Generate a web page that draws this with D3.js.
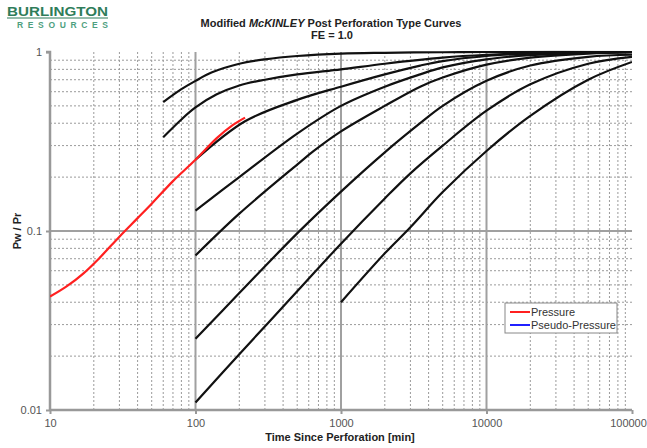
<!DOCTYPE html>
<html>
<head>
<meta charset="utf-8">
<script src="https://cdn.jsdelivr.net/npm/d3@7/dist/d3.min.js"></script>
<style>
  html, body { margin: 0; padding: 0; background: #fff; }
  svg { display: block; font-family: "Liberation Sans", Arial, sans-serif; }
</style>
</head>
<body>
<svg id="chart" width="647" height="448"></svg>
<script>
// Type curves: [time (min), Pw/Pr]
const typeCurve1 = [[60,0.525],[80,0.62],[100,0.69],[130,0.77],[200,0.86],[300,0.91],[500,0.95],[1000,0.98],[2000,0.99],[5000,0.997],[10000,1.0],[100000,1.0]];
const typeCurve2 = [[60,0.334],[80,0.42],[100,0.49],[140,0.58],[200,0.65],[300,0.7],[500,0.75],[1000,0.8],[2000,0.86],[5000,0.93],[10000,0.965],[20000,0.985],[50000,0.995],[100000,1.0]];
const typeCurve3 = [[100,0.25],[219,0.41],[500,0.54],[1000,0.64],[2000,0.75],[3500,0.84],[5000,0.89],[10000,0.95],[20000,0.98],[50000,0.995],[100000,1.0]];
const typeCurve4 = [[100,0.13],[200,0.2],[500,0.35],[1000,0.5],[2000,0.64],[3500,0.75],[5000,0.82],[10000,0.91],[20000,0.96],[50000,0.99],[100000,1.0]];
const typeCurve5 = [[100,0.073],[200,0.125],[500,0.235],[650,0.28],[1000,0.36],[2000,0.5],[3500,0.64],[5000,0.72],[10000,0.85],[20000,0.93],[50000,0.98],[100000,0.995]];
const typeCurve6 = [[100,0.025],[200,0.045],[500,0.097],[1000,0.166],[2000,0.275],[3500,0.4],[5000,0.5],[10000,0.69],[20000,0.84],[50000,0.94],[100000,0.965]];
const typeCurve7 = [[100,0.011],[200,0.0205],[500,0.046],[1000,0.085],[2000,0.152],[3000,0.21],[5000,0.3],[10000,0.47],[20000,0.66],[50000,0.86],[100000,0.94]];
const typeCurve8 = [[1000,0.04],[2000,0.075],[3000,0.105],[5000,0.165],[10000,0.28],[20000,0.44],[50000,0.70],[100000,0.88]];

// Measured pressure data
const pressureData = [[10,0.043],[13,0.049],[17,0.058],[22,0.071],[30,0.093],[40,0.118],[50,0.142],[70,0.19],[100,0.25],[140,0.33],[180,0.39],[219,0.43]];

const xTickValues = [10, 100, 1000, 10000, 100000];
const xTickLabels = ["10", "100", "1000", "10000", "100000"];
const yTickValues = [0.01, 0.1, 1];
const yTickLabels = ["0.01", "0.1", "1"];
const legendLabels = ["Pressure", "Pseudo-Pressure"];
const legendColors = ["#ff2020", "#2020ff"];

const svg = d3.select("#chart");
const plotLeft = 50, plotRight = 632, plotTop = 52, plotBottom = 410;

const x = d3.scaleLog().domain([10, 100000]).range([plotLeft, plotRight]);
const y = d3.scaleLog().domain([0.01, 1]).range([plotBottom, plotTop]);

// Minor grid values
const minorX = [], minorY = [];
for (let d = 10; d < 100000; d *= 10) for (let k = 2; k <= 9; k++) minorX.push(d * k);
for (let d = 0.01; d < 0.99; d *= 10) for (let k = 2; k <= 9; k++) minorY.push(d * k);

const grid = svg.append("g");
grid.selectAll("line.mx").data(minorX).join("line")
  .attr("x1", d => x(d)).attr("x2", d => x(d))
  .attr("y1", plotTop).attr("y2", plotBottom)
  .attr("stroke", "#9a9a9a").attr("stroke-width", 1).attr("stroke-dasharray", "2,2");
grid.selectAll("line.my").data(minorY).join("line")
  .attr("x1", plotLeft).attr("x2", plotRight)
  .attr("y1", d => y(d)).attr("y2", d => y(d))
  .attr("stroke", "#9a9a9a").attr("stroke-width", 1).attr("stroke-dasharray", "2,2");
// Major grid
grid.selectAll("line.Mx").data(xTickValues.slice(1, -1)).join("line")
  .attr("x1", d => x(d)).attr("x2", d => x(d))
  .attr("y1", plotTop).attr("y2", plotBottom)
  .attr("stroke", "#a0a0a0").attr("stroke-width", 2);
grid.selectAll("line.My").data([0.1]).join("line")
  .attr("x1", plotLeft).attr("x2", plotRight)
  .attr("y1", d => y(d)).attr("y2", d => y(d))
  .attr("stroke", "#a0a0a0").attr("stroke-width", 2);

// Axes
const xAxis = d3.axisBottom(x).tickValues(xTickValues)
  .tickFormat((d, i) => xTickLabels[i]).tickSize(4).tickPadding(5);
const yAxis = d3.axisLeft(y).tickValues(yTickValues)
  .tickFormat((d, i) => yTickLabels[i]).tickSize(4).tickPadding(4);

const gx = svg.append("g").attr("transform", `translate(0,${plotBottom})`).call(xAxis);
const gy = svg.append("g").attr("transform", `translate(${plotLeft},0)`).call(yAxis);
[gx, gy].forEach(g => {
  g.select(".domain").attr("stroke", "#999").attr("stroke-width", 2.5);
  g.selectAll(".tick line").attr("stroke", "#999").attr("stroke-width", 2);
  g.selectAll(".tick text").attr("fill", "#555").attr("font-size", 11)
    .attr("font-family", "Liberation Sans, Arial, sans-serif");
});
// keep the last x label inside the page
gx.selectAll(".tick text").filter((d, i) => i === xTickValues.length - 1).attr("dx", -4);
gy.select(".domain").attr("d", `M${-4},${plotTop}H0V${plotBottom}`);
gx.select(".domain").attr("d", `M${plotLeft},0H${plotRight}`);

// Curves
const line = d3.line()
  .x(d => x(d[0])).y(d => y(d[1]))
  .curve(d3.curveCatmullRom.alpha(0.5));

const typeCurves = [typeCurve1, typeCurve2, typeCurve3, typeCurve4, typeCurve5, typeCurve6, typeCurve7, typeCurve8];
svg.append("defs").append("clipPath").attr("id", "plot")
  .append("rect").attr("x", plotLeft).attr("y", plotTop - 1.5)
  .attr("width", plotRight - plotLeft).attr("height", plotBottom - plotTop + 1.5);

const curves = svg.append("g").attr("clip-path", "url(#plot)");
curves.selectAll("path.type").data(typeCurves).join("path")
  .attr("d", line).attr("fill", "none")
  .attr("stroke", "#111").attr("stroke-width", 2.2);
curves.append("path").datum(pressureData)
  .attr("d", line).attr("fill", "none")
  .attr("stroke", "#ff2020").attr("stroke-width", 2.2);

// Legend
const lg = svg.append("g").attr("transform", "translate(505,303)");
lg.append("rect").attr("width", 112).attr("height", 30)
  .attr("fill", "#fff").attr("stroke", "#888").attr("stroke-width", 1);
legendLabels.forEach((lab, i) => {
  const yy = 9 + i * 13;
  lg.append("line").attr("x1", 5).attr("x2", 25).attr("y1", yy).attr("y2", yy)
    .attr("stroke", legendColors[i]).attr("stroke-width", 2);
  lg.append("text").attr("x", 26).attr("y", yy + 4).attr("font-size", 11)
    .attr("fill", "#333").text(lab);
});

// Titles
const title = svg.append("text").attr("x", 331).attr("y", 27)
  .attr("text-anchor", "middle").attr("font-size", 11).attr("font-weight", "bold").attr("fill", "#222");
title.append("tspan").text("Modified ");
title.append("tspan").attr("font-style", "italic").text("McKINLEY");
title.append("tspan").text(" Post Perforation Type Curves");
svg.append("text").attr("x", 332).attr("y", 39).attr("text-anchor", "middle")
  .attr("font-size", 11).attr("font-weight", "bold").attr("fill", "#222").text("FE = 1.0");

svg.append("text").attr("x", 340).attr("y", 441).attr("text-anchor", "middle")
  .attr("font-size", 11).attr("font-weight", "bold").attr("fill", "#222").text("Time Since Perforation [min]");
svg.append("text").attr("transform", "translate(21,231) rotate(-90)").attr("text-anchor", "middle")
  .attr("font-size", 11).attr("font-weight", "bold").attr("fill", "#222").text("Pw / Pr");

// Company mark
const logo = svg.append("g");
logo.append("text").attr("x", 7).attr("y", 15.5).attr("font-size", 13.5).attr("font-weight", "bold")
  .attr("fill", "#2f7d5a").attr("textLength", 101).attr("lengthAdjust", "spacingAndGlyphs").text("BURLINGTON");
logo.append("line").attr("x1", 7).attr("x2", 108).attr("y1", 18).attr("y2", 18)
  .attr("stroke", "#2f7d5a").attr("stroke-width", 1.2);
logo.append("text").attr("x", 17).attr("y", 27.5).attr("font-size", 8.5).attr("font-weight", "bold")
  .attr("fill", "#4f9f80").attr("textLength", 91).attr("lengthAdjust", "spacing").text("RESOURCES");
</script>
</body>
</html>
